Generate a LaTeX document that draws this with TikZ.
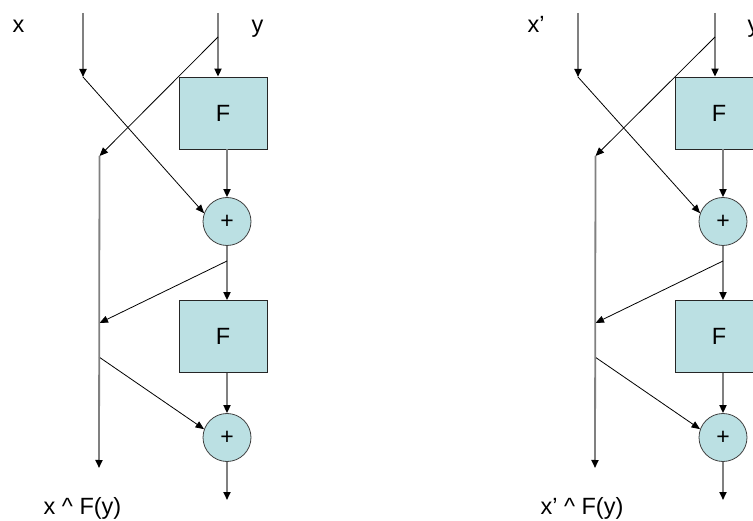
\documentclass[tikz,border=0pt]{standalone}
\usepackage{fontspec}
\setmainfont{Liberation Sans}
\usetikzlibrary{arrows.meta}
\definecolor{boxfill}{HTML}{BBE0E3}
\definecolor{wiregray}{HTML}{808080}

\begin{document}
\begin{tikzpicture}[
    x=1pt, y=-1pt,
    font=\fontsize{23.5}{28}\selectfont,
    fbox/.style={draw=black!85, fill=boxfill, line width=0.8pt, minimum width=88pt, minimum height=72pt, inner sep=0pt},
    xorc/.style={circle, draw=black!75, fill=boxfill, line width=0.8pt, minimum size=48pt, inner sep=0pt, font=\fontsize{23}{26}\selectfont},
    wire/.style={draw=wiregray, line width=1.8pt, -{Triangle[length=8pt,width=7pt,color=black]}},
    cross/.style={draw=black, line width=0.8pt, -{Triangle[length=8.5pt,width=7pt]}},
    lbl/.style={anchor=base, inner sep=0pt}
]
\useasboundingbox (0,0) rectangle (753,521);
\clip (0,0) rectangle (753,521);

% left network
\node[lbl] (xL) at (18.5,33) {x};
\node[lbl] (yL) at (257.5,33) {y};
\node[fbox] (F1L) at (223,113) {F};
\node[xorc] (P1L) at (227,221.5) {+};
\node[fbox] (F2L) at (223,336.5) {F};
\node[xorc] (P2L) at (227,437.5) {+};
\node[lbl] (resL) at (82.5,514) {x \textasciicircum{} F(y)};
\coordinate (xtopL) at (83,13);
\coordinate (xendL) at (83,77);
\coordinate (ytopL) at (218,13);
\coordinate (ybrL) at (218,37);
\coordinate (ltopL) at (99.5,156);
\coordinate (lmidL) at (99.5,323);
\coordinate (lbrL) at (99,357);
\coordinate (lendL) at (99,468);
\coordinate (rbrL) at (227,261);
\coordinate (outL) at (227,500);

\draw[wire] (xtopL) -- (xendL);
\draw[wire] (ytopL) -- (ytopL |- F1L.north);
\draw[cross] (ybrL) -- (ltopL);
\draw[cross] (xendL) -- (P1L.160);
\draw[wire] (F1L.south -| P1L) -- (P1L.north);
\draw[wire] (P1L.south) -- (P1L |- F2L.north);
\draw[cross] (rbrL) -- (lmidL);
\draw[wire] (F2L.south -| P2L) -- (P2L.north);
\draw[cross] (lbrL) -- (P2L.160);
\draw[wire] (P2L.south) -- (outL);
\draw[wire] (ltopL) -- (lendL);

% right network
\begin{scope}[xshift=496pt]
\node[lbl] (xR) at (40,33) {x’};
\node[lbl] (yR) at (257.5,33) {y};
\node[fbox] (F1R) at (223,113) {F};
\node[xorc] (P1R) at (227,221.5) {+};
\node[fbox] (F2R) at (223,336.5) {F};
\node[xorc] (P2R) at (227,437.5) {+};
\node[lbl] (resR) at (86,514) {x’ \textasciicircum{} F(y)};
\coordinate (xtopR) at (82,13);
\coordinate (xendR) at (82,77);
\coordinate (ytopR) at (219,13);
\coordinate (ybrR) at (219,37);
\coordinate (ltopR) at (99.5,156);
\coordinate (lmidR) at (99.5,323);
\coordinate (lbrR) at (99,357);
\coordinate (lendR) at (99,468);
\coordinate (rbrR) at (227,261);
\coordinate (outR) at (227,500);

\draw[wire] (xtopR) -- (xendR);
\draw[wire] (ytopR) -- (ytopR |- F1R.north);
\draw[cross] (ybrR) -- (ltopR);
\draw[cross] (xendR) -- (P1R.160);
\draw[wire] (F1R.south -| P1R) -- (P1R.north);
\draw[wire] (P1R.south) -- (P1R |- F2R.north);
\draw[cross] (rbrR) -- (lmidR);
\draw[wire] (F2R.south -| P2R) -- (P2R.north);
\draw[cross] (lbrR) -- (P2R.160);
\draw[wire] (P2R.south) -- (outR);
\draw[wire] (ltopR) -- (lendR);
\end{scope}
\end{tikzpicture}
\end{document}
